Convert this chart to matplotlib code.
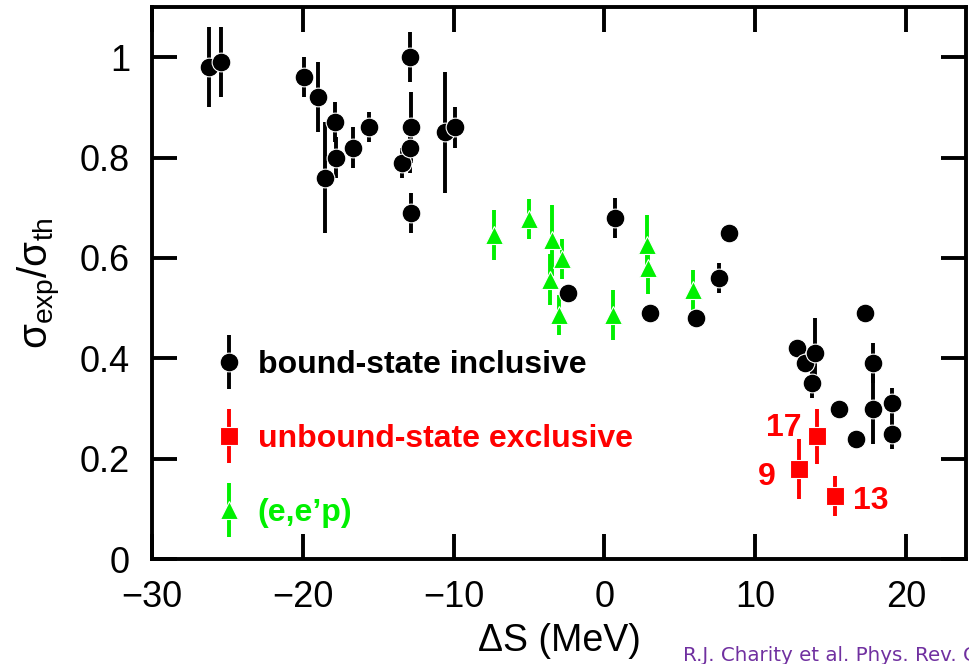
import matplotlib
matplotlib.use('Agg')
import matplotlib.pyplot as plt
from matplotlib.legend_handler import HandlerErrorbar

plt.rcParams['font.family'] = ['Liberation Sans', 'DejaVu Sans']
plt.rcParams['mathtext.fontset'] = 'custom'
plt.rcParams['mathtext.rm'] = 'Liberation Sans'

# bound-state inclusive (black circles)
bound_x = [-26.2, -25.4, -19.9, -19.0, -18.5, -17.9, -17.8, -16.7, -15.6, -13.4,
           -12.9, -12.85, -12.9, -12.85, -10.6, -9.9, -2.4, 0.7, 3.0, 6.1,
           7.6, 8.3, 12.8, 13.3, 13.8, 14.0, 15.6, 16.7, 17.3, 17.8,
           17.8, 19.1, 19.1]
bound_y = [0.98, 0.99, 0.96, 0.92, 0.76, 0.87, 0.80, 0.82, 0.86, 0.79,
           1.00, 0.86, 0.82, 0.69, 0.85, 0.86, 0.53, 0.68, 0.49, 0.48,
           0.56, 0.65, 0.42, 0.39, 0.35, 0.41, 0.30, 0.24, 0.49, 0.39,
           0.30, 0.31, 0.25]
bound_err = [0.08, 0.07, 0.04, 0.07, 0.11, 0.04, 0.04, 0.04, 0.03, 0.03,
             0.05, 0.07, 0.05, 0.04, 0.12, 0.04, 0.015, 0.04, 0.015, 0.015,
             0.03, 0.015, 0.015, 0.015, 0.03, 0.07, 0.015, 0.015, 0.015, 0.04,
             0.07, 0.03, 0.03]

# unbound-state exclusive (red squares)
unbound_x = [12.9, 14.1, 15.3]
unbound_y = [0.18, 0.245, 0.125]
unbound_err = [0.06, 0.055, 0.04]
unbound_lbl = ['9', '17', '13']

# (e,e'p) (green triangles)
eep_x = [-7.3, -5.0, -3.5, -3.6, -2.8, -3.0, 0.6, 2.8, 2.9, 5.9]
eep_y = [0.645, 0.677, 0.635, 0.557, 0.598, 0.486, 0.486, 0.625, 0.579, 0.536]
eep_err = [0.05, 0.04, 0.07, 0.05, 0.04, 0.04, 0.05, 0.06, 0.05, 0.04]

GREEN = '#00f000'
RED = '#ff0000'

fig = plt.figure(figsize=(9.69, 6.64), dpi=100)
ax = fig.add_axes([0.157, 0.158, 0.840, 0.8315])

common = dict(linestyle='none', ms=13.5, elinewidth=2.8, capsize=0,
              markeredgecolor='white', markeredgewidth=0.8)
h_eep = ax.errorbar(eep_x, eep_y, yerr=eep_err, fmt='^', color=GREEN,
                    ecolor=GREEN, markerfacecolor=GREEN, **common)
h_bound = ax.errorbar(bound_x, bound_y, yerr=bound_err, fmt='o', color='black',
                      ecolor='black', markerfacecolor='black', **common)
h_unb = ax.errorbar(unbound_x, unbound_y, yerr=unbound_err, fmt='s', color=RED,
                    ecolor=RED, markerfacecolor=RED, **common)

# labels next to the red points
offsets = {'9': (-17, -6, 'right'), '17': (-11, 6, 'right'), '13': (13, -3, 'left')}
for x, y, t in zip(unbound_x, unbound_y, unbound_lbl):
    dx, dy, ha = offsets[t]
    ax.annotate(t, (x, y), xytext=(dx, dy), textcoords='offset points',
                ha=ha, va='center', color=RED, fontsize=23, fontweight='bold')

ax.set_xlim(-30, 24)
ax.set_ylim(0, 1.1)
ax.set_xticks([-30, -20, -10, 0, 10, 20])
ax.set_yticks([0, 0.2, 0.4, 0.6, 0.8, 1.0])
ax.set_yticklabels(['0', '0.2', '0.4', '0.6', '0.8', '1'])
ax.tick_params(direction='in', length=18, width=2.8, labelsize=26,
               top=True, right=True)
ax.tick_params(axis='x', pad=15)
ax.tick_params(axis='y', pad=16)
for s in ax.spines.values():
    s.set_linewidth(2.8)

ax.set_xlabel('ΔS (MeV)', fontsize=27, labelpad=6)
ax.set_ylabel(r'σ$_{\rm exp}$/σ$_{\rm th}$', fontsize=29, labelpad=12)

leg = ax.legend([h_bound, h_unb, h_eep],
                ['bound-state inclusive', 'unbound-state exclusive', "(e,e’p)"],
                loc='upper left', bbox_to_anchor=(0.071, 0.378),
                frameon=False, numpoints=1, handlelength=1.2,
                handletextpad=0.3, labelspacing=1.37, borderpad=0,
                borderaxespad=0, prop={'weight': 'bold', 'size': 23},
                labelcolor=['black', RED, GREEN],
                handler_map={type(h_bound): HandlerErrorbar(yerr_size=0.85)})

fig.text(683 / 969, 0.013, 'R.J. Charity et al. Phys. Rev. C',
         color='#7030a0', fontsize=14.3, family='Liberation Sans Narrow',
         ha='left', va='center')

fig.savefig('out.png', dpi=100)
